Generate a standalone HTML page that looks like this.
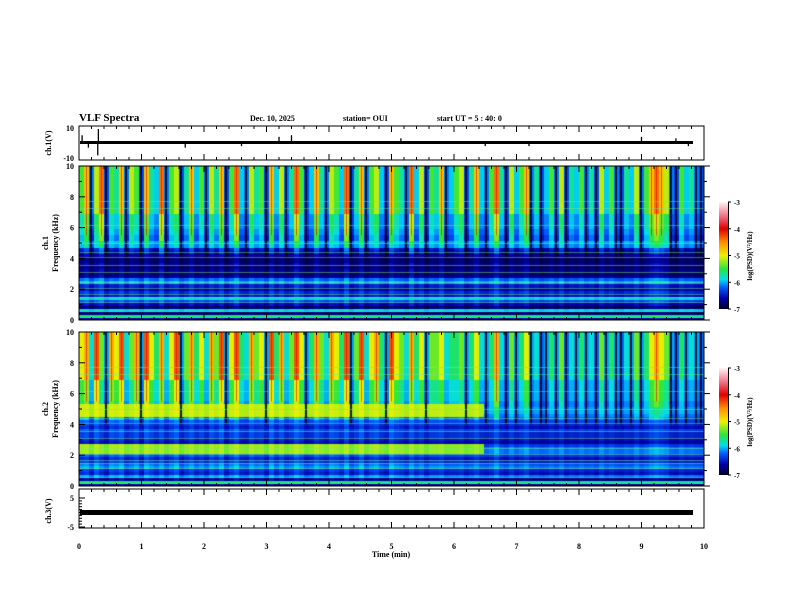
<!DOCTYPE html>
<html><head><meta charset="utf-8">
<style>
body{margin:0;background:#fff;width:792px;height:612px;overflow:hidden;position:relative;font-family:"Liberation Serif",serif;}
canvas{position:absolute;}
svg{position:absolute;left:0;top:0;}
text{font-family:"Liberation Serif",serif;font-weight:bold;fill:#000;}
</style></head>
<body>
<canvas id="spec1" width="625" height="154" style="left:79px;top:166px"></canvas>
<canvas id="spec2" width="625" height="154" style="left:79px;top:332px"></canvas>
<svg id="axes" width="792" height="612"></svg>
<script>
// ---- data ----
const ch1Act = [6,8,3,7,9,2,6,5,8,3,7,6,2,8,5,4,9,3,6,7,2,5,8,4,6,
3,7,5,8,2,6,9,4,3,7,5,6,2,8,4,7,3,5,9,6,2,4,8,5,3,
7,6,4,9,2,5,8,3,6,7,4,2,8,6,5,3,9,4,7,2,6,5,8,3,4,
6,7,2,5,8,4,3,6,9,5,2,7,4,6,8,3,5,2,4,6,3,7,2,5,4,
6,3,5,2,7,4,6,3,2,5,4,7,3,6,8,9,8,7,3,2,6,4,5,3,2];
const ch2Act = [7,8,4,9,6,3,8,7,9,4,6,8,3,9,7,5,8,4,7,9,3,6,8,5,7,
4,8,6,9,3,7,9,5,4,8,6,7,3,9,5,8,4,6,9,7,3,5,8,6,4,
8,7,5,9,3,6,9,4,7,8,5,3,9,7,6,4,8,5,7,3,6,6,7,4,5,
5,6,3,5,7,4,3,5,8,4,2,6,3,5,7,3,4,2,3,5,3,6,2,4,3,
5,3,4,2,6,3,5,3,2,4,3,6,3,5,7,8,7,6,3,2,5,3,4,3,2];
const ch1Base = [-6.8,-5.8,-6.9,-6.0,-6.9,-6.7,-6.4,-6.0,-6.6,-6.5,-6.7,-6.6,-6.1,-6.3,-6.8,-6.9,-6.8,-6.9,-6.8,-6.9,-6.9,-6.8,-6.9,-6.8,-6.3,-6.2,
-6.6,-6.6,-6.5,-6.5,-6.4,-6.4,-6.4,-6.4,-6.4,-6.4,-6.4,-6.4,-6.4,-6.4,-6.4,-6.4,-6.4,-6.4,-6.4,-6.4,-6.4,-6.4,-6.4,-6.4];
const ch2Base = [-6.8,-5.8,-6.8,-6.2,-6.6,-6.5,-6.2,-6.3,-6.5,-6.6,-6.4,-6.2,-6.2,-6.4,-6.7,-6.6,-6.5,-6.5,-6.4,-6.6,-6.5,-6.4,-6.4,-6.3,-6.2,-6.2,
-6.4,-6.4,-6.3,-6.3,-6.3,-6.3,-6.3,-6.3,-6.3,-6.3,-6.3,-6.3,-6.3,-6.3,-6.3,-6.3,-6.3,-6.3,-6.3,-6.3,-6.3,-6.3,-6.3,-6.3];
const ch2Bands = [[2.3,2.8,-5.4],[4.6,5.3,-5.3]];
const ch2BandEnd = [6.45];
const hLines = [0.2,0.6,1.2,1.5,1.7,2.1,2.5,3.1,3.6,4.1,4.4,5.0,6.2,7.3,7.7];
const ch1Spikes = [[0.05,5],[0.15,-3],[0.3,-8],[0.31,9],[1.7,-3],[2.6,-2],[3.2,4],[3.4,5],[5.15,3],[6.5,-2],[7.2,-2],[9.0,4],[9.55,3],[9.75,-2]];
const ch3Level = [0];
const xTicks = [0,1,2,3,4,5,6,7,8,9,10];
const fTicks = [0,2,4,6,8,10];
const cbTicks = [-3,-4,-5,-6,-7];

// ---- scales ----
const X0=79,X1=704;
const xs=t=>X0+(X1-X0)*t/10;
const stops=[[-7,[0,0,40]],[-6.6,[0,0,170]],[-6.2,[0,90,255]],[-5.9,[0,220,240]],[-5.5,[40,230,60]],[-5.0,[240,240,0]],[-4.5,[255,140,0]],[-4.0,[225,0,0]],[-3.5,[240,120,140]],[-3,[255,245,245]]];
function cmap(v){if(v<=-7)return stops[0][1];if(v>=-3)return stops[stops.length-1][1];
for(let i=0;i<stops.length-1;i++){const a=stops[i],b=stops[i+1];if(v>=a[0]&&v<=b[0]){const f=(v-a[0])/(b[0]-a[0]);return a[1].map((c,k)=>Math.round(c+(b[1][k]-c)*f));}}}
function weight(i){return i<22?0.3:(i<26?0.7:(i<35?1.3:2.0));}
function drawSpec(id,act,base,bands){
 const c=document.getElementById(id),g=c.getContext('2d');const W=c.width,H=c.height;
 const nc=act.length,nf=base.length,cw=W/nc,fh=H/nf;
 for(let t=0;t<nc;t++){const tm=(t+0.5)*10/nc;
  for(let f=0;f<nf;f++){const fk=(f+0.5)*10/nf;
   let v=base[f]+weight(f)*Math.pow(act[t]/9,1.8);
   if(bands&&tm<ch2BandEnd[0])bands.forEach(b=>{if(fk>=b[0]&&fk<=b[1])v=Math.max(v,b[2]+act[t]*0.03);});
   const col=cmap(v);g.fillStyle=`rgb(${col[0]},${col[1]},${col[2]})`;
   g.fillRect(Math.floor(t*cw),Math.floor(H-(f+1)*fh),Math.ceil(cw)+1,Math.ceil(fh)+1);}
  if(act[t]<=3){g.fillStyle='rgba(0,0,20,0.85)';g.fillRect(Math.floor(t*cw)+1,0,2,H*0.6);}
  if(act[t]>=8){g.fillStyle='rgba(220,0,0,0.6)';g.fillRect(Math.floor(t*cw)+2,0,1,H*0.45);}
 }
 hLines.forEach(h=>{g.fillStyle='rgba(120,230,140,0.5)';g.fillRect(0,Math.round(H-H*h/10),W,1);});
}
drawSpec('spec1',ch1Act,ch1Base,null);
drawSpec('spec2',ch2Act,ch2Base,ch2Bands);

// ---- svg axes ----
const S=document.getElementById('axes');const NS='http://www.w3.org/2000/svg';
function el(tag,attrs,txt){const e=document.createElementNS(NS,tag);for(const k in attrs)e.setAttribute(k,attrs[k]);if(txt!==undefined)e.textContent=txt;S.appendChild(e);return e;}
function txt(x,y,s,size,anchor,name,rot){const e=el('text',{x:x,y:y,'font-size':size,'text-anchor':anchor||'start'},s);
 if(rot)e.setAttribute('transform',`rotate(-90 ${x} ${y})`);
 
 return e;}
function box(y0,y1,name){const r=el('rect',{x:X0,y:y0,width:X1-X0,height:y1-y0,fill:'none',stroke:'#000','stroke-width':1});
 
 
 for(let i=0;i<=50;i++){const x=X0+(X1-X0)*i/50;const L=i%5==0?6:3;
  el('line',{x1:x,y1:y0,x2:x,y2:y0+L,stroke:'#000'});el('line',{x1:x,y1:y1,x2:x,y2:y1-L,stroke:'#000'});}}
// header
txt(79,121,'VLF Spectra',11,'start','chart-title');
txt(250,121,'Dec. 10, 2025',8,'start','date-label');
txt(343,121,'station= OUI',8,'start','station-label');
txt(437,121,'start  UT  =   5 : 40: 0',8,'start','start-time-label');
// ch1 waveform panel
box(126,160,'ch1-waveform-panel');
const ys1=v=>143-v*1.55;
const wf=el('rect',{x:X0+1,y:141,width:X1-X0-12,height:3,fill:'#000'});


ch1Spikes.forEach(s=>{const l=el('line',{x1:xs(s[0]),x2:xs(s[0]),y1:143,y2:ys1(s[1]),stroke:'#000','stroke-width':1.3});
 
 });
txt(74,131,'10',8,'end','ch1-ytick-10');
txt(74,161,'-10',8,'end','ch1-ytick-neg10');
txt(51,143,'ch.1(V)',8,'middle','ch1-y-title',true);
// spectrogram panels
function specAxes(y0,name,ch){box(y0,y0+154,name);
 for(let k=0;k<=10;k++){const y=y0+154-15.4*k;const L=k%2==0?6:3;
  el('line',{x1:X0,y1:y,x2:X0+L,y2:y,stroke:'#000'});el('line',{x1:X1,y1:y,x2:X1+L,y2:y,stroke:'#000'});}
 fTicks.forEach(f=>txt(74,y0+154-15.4*f+3,String(f),8,'end','freq-tick'));
 txt(48,y0+77,ch,8,'middle','spec-y-title-channel',true);
 txt(58,y0+77,'Frequency  (kHz)',8,'middle','spec-y-title',true);}
specAxes(166,'ch1-spectrogram-panel','ch.1');
specAxes(332,'ch2-spectrogram-panel','ch.2');
// colorbars
function cbar(y0,id){const gid='g'+id;const d=el('defs',{});
 const lg=document.createElementNS(NS,'linearGradient');lg.setAttribute('id',gid);lg.setAttribute('x1','0');lg.setAttribute('y1','1');lg.setAttribute('x2','0');lg.setAttribute('y2','0');d.appendChild(lg);
 stops.forEach(s=>{const st=document.createElementNS(NS,'stop');st.setAttribute('offset',(s[0]+7)/4);st.setAttribute('stop-color',`rgb(${s[1].join(',')})`);lg.appendChild(st);});
 const r=el('rect',{x:719,y:y0,width:9,height:107,fill:`url(#${gid})`});
 
 
 el('line',{x1:728.5,y1:y0,x2:728.5,y2:y0+107,stroke:'#000'});
 cbTicks.forEach(v=>{const y=y0+107*(-3-v)/4;el('line',{x1:728,y1:y,x2:731,y2:y,stroke:'#000'});txt(734,y+3,String(v),7,'start','colorbar-tick');});
 txt(752,y0+54,'log(PSD)(V²/Hz)',7,'middle','colorbar-title',true);}
cbar(202,1);cbar(368,2);
// ch3 panel
box(489,528,'ch3-waveform-panel');
const ys3=v=>512.5-v*2.9;
const l3=el('rect',{x:X0+1,y:ys3(ch3Level[0])-2.5,width:X1-X0-12,height:5,fill:'#000'});


for(let v=-5;v<=5;v++){el('line',{x1:X0,y1:ys3(v),x2:X0+(v%5==0?6:3),y2:ys3(v),stroke:'#000'});}
txt(74,501,'5',8,'end','ch3-ytick-5');txt(74,530,'-5',8,'end','ch3-ytick-neg5');
txt(51,511,'ch.3(V)',8,'middle','ch3-y-title',true);
xTicks.forEach(t=>txt(xs(t),549,String(t),8,'middle','x-tick'));
txt(391,557,'Time  (min)',8,'middle','x-axis-title');
</script>
</body></html>
